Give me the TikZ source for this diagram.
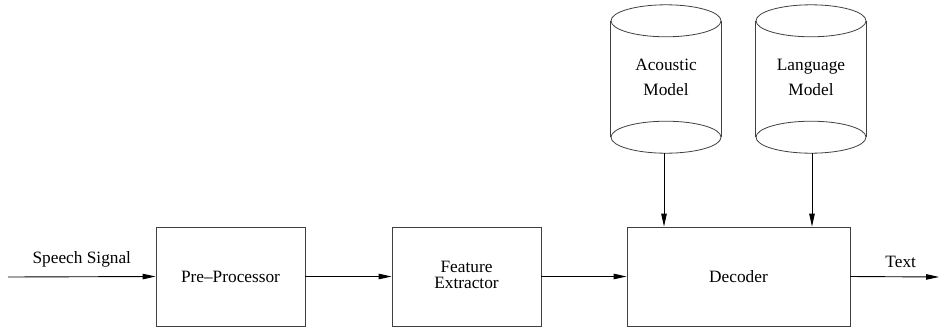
\documentclass[tikz,border=0pt]{standalone}
\usepackage{fontspec}
\setmainfont{Liberation Serif}
\usetikzlibrary{arrows.meta}
\begin{document}
\begin{tikzpicture}[x=1pt,y=-1pt,
  every node/.style={font=\fontsize{17.3}{19}\selectfont},
  blockbox/.style={draw, line width=0.8pt, color=black!75, text=black, inner sep=0pt},
  conn/.style={line width=0.9pt, -{Triangle[length=13pt,width=5.5pt]}},
  cyl/.style={draw, line width=0.8pt, color=black!75},
  lbl/.style={inner sep=0pt}]
\useasboundingbox (0,0) rectangle (939,327);
% blocks
\node[blockbox, minimum width=149pt, minimum height=99pt] (pre) at (230.5,276.5) {Pre--Processor};
\node[blockbox, minimum width=149pt, minimum height=99pt, align=center] (fe) at (466.5,276.5) {\begin{tabular}{@{}c@{}}Feature\\[-3pt]Extractor\end{tabular}};
\node[blockbox, minimum width=223pt, minimum height=99pt] (dec) at (738.5,276.5) {Decoder};
% cylinders
\node[minimum width=110pt, minimum height=148pt, inner sep=0pt, align=center] (am) at (666,79) {\begin{tabular}{@{}c@{}}Acoustic\\[6pt]Model\end{tabular}};
\node[minimum width=110pt, minimum height=148pt, inner sep=0pt, align=center] (lm) at (811,79) {\begin{tabular}{@{}c@{}}Language\\[6pt]Model\end{tabular}};
\foreach \c in {am,lm}{
  \draw[cyl] ([yshift=-16pt]\c.north) ellipse [x radius=55pt, y radius=16pt];
  \draw[cyl] ([yshift=16pt]\c.south) ellipse [x radius=55pt, y radius=16pt];
  \draw[cyl] ([yshift=-16pt]\c.north west) -- ([yshift=16pt]\c.south west);
  \draw[cyl] ([yshift=-16pt]\c.north east) -- ([yshift=16pt]\c.south east);
}
% connectors
\coordinate (in) at (8,277);
\coordinate (out) at (939,277);
\draw[conn] (in) -- (pre.west) node[lbl, midway, above=9pt] {Speech Signal};
\draw[conn] (pre.east) -- (fe.west);
\draw[conn] (fe.east) -- (dec.west);
\draw[conn] (dec.east) -- (out) node[lbl, midway, above=9pt, xshift=6pt] {Text};
\draw[conn] (am.south -| 664,0) -- (dec.north -| 664,0);
\draw[conn] (lm.south -| 812,0) -- (dec.north -| 812,0);
\end{tikzpicture}
\end{document}
